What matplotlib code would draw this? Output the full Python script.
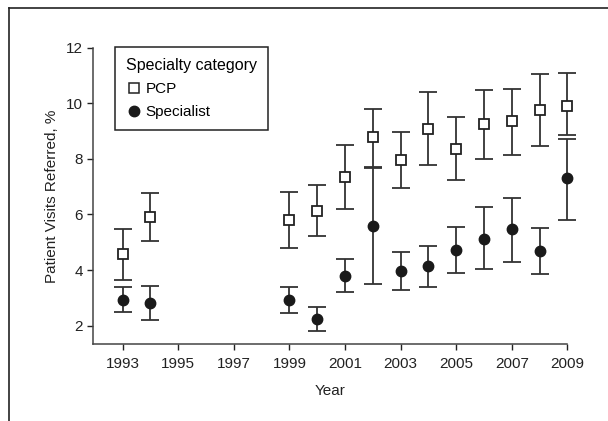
import numpy as np
import matplotlib
matplotlib.use("Agg")
import matplotlib.pyplot as plt
from matplotlib.lines import Line2D

plt.rcParams['font.family'] = ['Liberation Sans Narrow', 'Liberation Sans', 'DejaVu Sans']

years_pcp = [1993, 1994, 1999, 2000, 2001, 2002, 2003, 2004, 2005, 2006, 2007, 2008, 2009]
pcp = [4.57, 5.92, 5.80, 6.14, 7.35, 8.77, 7.96, 9.09, 8.36, 9.24, 9.35, 9.76, 9.90]
pcp_hi = [5.47, 6.78, 6.82, 7.07, 8.50, 9.79, 8.95, 10.42, 9.51, 10.47, 10.51, 11.05, 11.10]
pcp_lo = [3.64, 5.06, 4.79, 5.21, 6.20, 7.72, 6.96, 7.77, 7.23, 8.01, 8.15, 8.47, 8.85]

years_spec = years_pcp
spec = [2.94, 2.82, 2.91, 2.24, 3.80, 5.59, 3.95, 4.13, 4.72, 5.13, 5.47, 4.70, 7.32]
spec_hi = [3.38, 3.44, 3.38, 2.68, 4.40, 7.68, 4.64, 4.88, 5.56, 6.26, 6.60, 5.53, 8.72]
spec_lo = [2.48, 2.20, 2.47, 1.81, 3.22, 3.50, 3.28, 3.40, 3.88, 4.03, 4.30, 3.86, 5.80]

xticks = [1993, 1995, 1997, 1999, 2001, 2003, 2005, 2007, 2009]
yticks = [2, 4, 6, 8, 10, 12]

W, H = 608, 421
fig = plt.figure(figsize=(W / 100, H / 100), dpi=100)
ax = fig.add_axes([92.7 / W, 1 - 344 / H, (567.3 - 92.7) / W, (344 - 47.7) / H])

ecol = '#333333'
fs = 11

def draw(xs, ys, lo, hi, **kw):
    ys = np.array(ys)
    err = [ys - np.array(lo), np.array(hi) - ys]
    _, caps, bars = ax.errorbar(xs, ys, yerr=err, fmt='none', ecolor=ecol,
                                elinewidth=1.3, capsize=6.5, capthick=1.3,
                                clip_on=False, zorder=2)
    for c in caps:
        c.set_clip_on(False)
    for b in bars:
        b.set_clip_on(False)
    ax.plot(xs, ys, linestyle='none', clip_on=False, zorder=3, **kw)

draw(years_pcp, pcp, pcp_lo, pcp_hi, marker='s', markersize=7,
     markerfacecolor='white', markeredgecolor='#222222', markeredgewidth=1.3)
draw(years_spec, spec, spec_lo, spec_hi, marker='o', markersize=7.5,
     markerfacecolor='#1a1a1a', markeredgecolor='#1a1a1a')

ax.set_xlim(1991.92, 2009)
ax.set_ylim(1.34, 12)
ax.set_xticks(xticks)
ax.set_yticks(yticks)
ax.tick_params(labelsize=fs, colors='#222222', length=4, width=1)
ax.tick_params(axis='x', pad=5)
ax.tick_params(axis='y', pad=3)
for s in ['top', 'right']:
    ax.spines[s].set_visible(False)
for s in ['left', 'bottom']:
    ax.spines[s].set_color('#444444')
    ax.spines[s].set_linewidth(1.1)

ax.set_xlabel('Year', fontsize=fs, color='#222222', labelpad=10)
ax.set_ylabel('Patient Visits Referred, %', fontsize=fs, color='#222222', labelpad=5)

handles = [
    Line2D([], [], linestyle='none', marker='s', markersize=7,
           markerfacecolor='white', markeredgecolor='#222222', markeredgewidth=1.1),
    Line2D([], [], linestyle='none', marker='o', markersize=7.5,
           markerfacecolor='#1a1a1a', markeredgecolor='#1a1a1a'),
]
leg = ax.legend(handles, ['PCP', 'Specialist'], title='Specialty category',
                loc='upper left', bbox_to_anchor=(115.3 / W, 1 - 47.3 / H),
                bbox_transform=fig.transFigure, borderaxespad=0,
                fontsize=fs, title_fontsize=fs + 0.5, alignment='left',
                fancybox=False, framealpha=1, edgecolor='#222222',
                handletextpad=0.3, handlelength=1.0, borderpad=0.7,
                labelspacing=0.6)
leg.get_frame().set_linewidth(1.1)

# outer frame (left and top edges only visible)
fig.add_artist(Line2D([9 / W, 9 / W], [0, 1 - 8.3 / H], color='#222222', linewidth=1.2))
fig.add_artist(Line2D([9 / W, 1], [1 - 8.3 / H, 1 - 8.3 / H], color='#222222', linewidth=1.2))

fig.savefig('out.png', dpi=100)
